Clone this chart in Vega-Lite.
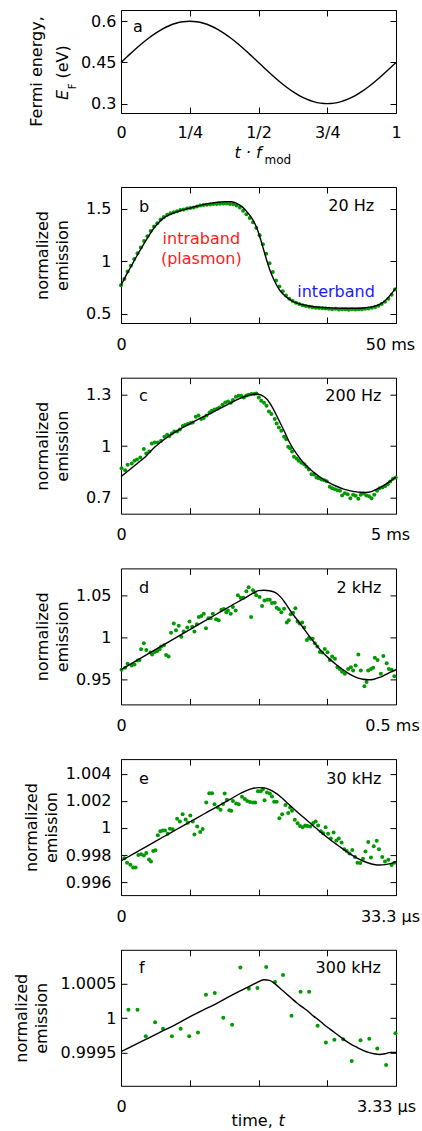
{
"$schema":"https://vega.github.io/schema/vega-lite/v6.json",
"padding":{"left":12,"top":9,"right":0,"bottom":0},
"autosize":{"type":"pad"},
"config":{
"font":"DejaVu Sans",
"view":{"stroke":"#000","strokeWidth":1},
"axis":{"grid":false,"domain":false,"tickColor":"#000","tickSize":-6,"tickWidth":1,"labelFont":"DejaVu Sans","labelFontSize":16,"labelColor":"#000","titleFont":"DejaVu Sans","titleFontSize":16,"titleFontWeight":"normal","titleColor":"#000","labelPadding":16,"labelFlush":false,"labelOverlap":false,"format":"~g"},
"axisX":{"labelPadding":19},
"text":{"font":"DejaVu Sans","fontSize":16,"color":"#000"}
},
"datasets":{
"fitA":[{"phase":0,"EF":0.45},{"phase":0.025,"EF":0.4735},{"phase":0.05,"EF":0.4964},{"phase":0.075,"EF":0.5181},{"phase":0.1,"EF":0.5382},{"phase":0.125,"EF":0.5561},{"phase":0.15,"EF":0.5714},{"phase":0.175,"EF":0.5837},{"phase":0.2,"EF":0.5927},{"phase":0.225,"EF":0.5982},{"phase":0.25,"EF":0.6},{"phase":0.275,"EF":0.5982},{"phase":0.3,"EF":0.5927},{"phase":0.325,"EF":0.5837},{"phase":0.35,"EF":0.5714},{"phase":0.375,"EF":0.5561},{"phase":0.4,"EF":0.5382},{"phase":0.425,"EF":0.5181},{"phase":0.45,"EF":0.4964},{"phase":0.475,"EF":0.4735},{"phase":0.5,"EF":0.45},{"phase":0.525,"EF":0.4265},{"phase":0.55,"EF":0.4036},{"phase":0.575,"EF":0.3819},{"phase":0.6,"EF":0.3618},{"phase":0.625,"EF":0.3439},{"phase":0.65,"EF":0.3286},{"phase":0.675,"EF":0.3163},{"phase":0.7,"EF":0.3073},{"phase":0.725,"EF":0.3018},{"phase":0.75,"EF":0.3},{"phase":0.775,"EF":0.3018},{"phase":0.8,"EF":0.3073},{"phase":0.825,"EF":0.3163},{"phase":0.85,"EF":0.3286},{"phase":0.875,"EF":0.3439},{"phase":0.9,"EF":0.3618},{"phase":0.925,"EF":0.3819},{"phase":0.95,"EF":0.4036},{"phase":0.975,"EF":0.4265},{"phase":1,"EF":0.45}],
"fitB":[{"phase":0,"emission":0.767},{"phase":0.02,"emission":0.87},{"phase":0.04,"emission":0.965},{"phase":0.06,"emission":1.06},{"phase":0.08,"emission":1.15},{"phase":0.1,"emission":1.235},{"phase":0.12,"emission":1.315},{"phase":0.14,"emission":1.375},{"phase":0.16,"emission":1.418},{"phase":0.18,"emission":1.445},{"phase":0.2,"emission":1.466},{"phase":0.22,"emission":1.483},{"phase":0.24,"emission":1.497},{"phase":0.26,"emission":1.511},{"phase":0.28,"emission":1.525},{"phase":0.3,"emission":1.537},{"phase":0.32,"emission":1.548},{"phase":0.34,"emission":1.556},{"phase":0.36,"emission":1.562},{"phase":0.38,"emission":1.566},{"phase":0.4,"emission":1.564},{"phase":0.42,"emission":1.55},{"phase":0.44,"emission":1.518},{"phase":0.46,"emission":1.463},{"phase":0.48,"emission":1.39},{"phase":0.49,"emission":1.338},{"phase":0.5,"emission":1.27},{"phase":0.51,"emission":1.185},{"phase":0.52,"emission":1.095},{"phase":0.53,"emission":1.005},{"phase":0.54,"emission":0.925},{"phase":0.55,"emission":0.858},{"phase":0.56,"emission":0.8},{"phase":0.57,"emission":0.752},{"phase":0.58,"emission":0.712},{"phase":0.6,"emission":0.66},{"phase":0.62,"emission":0.623},{"phase":0.64,"emission":0.6},{"phase":0.66,"emission":0.585},{"phase":0.68,"emission":0.574},{"phase":0.7,"emission":0.566},{"phase":0.72,"emission":0.561},{"phase":0.74,"emission":0.557},{"phase":0.76,"emission":0.554},{"phase":0.78,"emission":0.552},{"phase":0.8,"emission":0.551},{"phase":0.82,"emission":0.55},{"phase":0.84,"emission":0.55},{"phase":0.86,"emission":0.55},{"phase":0.88,"emission":0.553},{"phase":0.9,"emission":0.559},{"phase":0.92,"emission":0.569},{"phase":0.94,"emission":0.587},{"phase":0.96,"emission":0.622},{"phase":0.98,"emission":0.678},{"phase":1,"emission":0.745}],
"ptsB":[{"phase":0,"emission":0.77},{"phase":0.012,"emission":0.83},{"phase":0.024,"emission":0.9},{"phase":0.036,"emission":0.955},{"phase":0.048,"emission":1.02},{"phase":0.06,"emission":1.075},{"phase":0.072,"emission":1.13},{"phase":0.084,"emission":1.19},{"phase":0.096,"emission":1.235},{"phase":0.108,"emission":1.285},{"phase":0.12,"emission":1.33},{"phase":0.132,"emission":1.36},{"phase":0.144,"emission":1.395},{"phase":0.156,"emission":1.42},{"phase":0.168,"emission":1.44},{"phase":0.18,"emission":1.455},{"phase":0.192,"emission":1.465},{"phase":0.204,"emission":1.475},{"phase":0.216,"emission":1.485},{"phase":0.228,"emission":1.49},{"phase":0.24,"emission":1.5},{"phase":0.252,"emission":1.505},{"phase":0.264,"emission":1.51},{"phase":0.276,"emission":1.52},{"phase":0.288,"emission":1.528},{"phase":0.3,"emission":1.533},{"phase":0.312,"emission":1.535},{"phase":0.324,"emission":1.538},{"phase":0.336,"emission":1.542},{"phase":0.348,"emission":1.543},{"phase":0.36,"emission":1.546},{"phase":0.372,"emission":1.548},{"phase":0.384,"emission":1.547},{"phase":0.396,"emission":1.544},{"phase":0.408,"emission":1.54},{"phase":0.42,"emission":1.53},{"phase":0.432,"emission":1.51},{"phase":0.444,"emission":1.48},{"phase":0.456,"emission":1.445},{"phase":0.468,"emission":1.41},{"phase":0.48,"emission":1.37},{"phase":0.492,"emission":1.315},{"phase":0.504,"emission":1.245},{"phase":0.516,"emission":1.16},{"phase":0.528,"emission":1.07},{"phase":0.54,"emission":0.98},{"phase":0.552,"emission":0.895},{"phase":0.564,"emission":0.815},{"phase":0.576,"emission":0.758},{"phase":0.588,"emission":0.712},{"phase":0.6,"emission":0.672},{"phase":0.612,"emission":0.642},{"phase":0.624,"emission":0.62},{"phase":0.636,"emission":0.603},{"phase":0.648,"emission":0.59},{"phase":0.66,"emission":0.58},{"phase":0.672,"emission":0.571},{"phase":0.684,"emission":0.565},{"phase":0.696,"emission":0.56},{"phase":0.708,"emission":0.556},{"phase":0.72,"emission":0.552},{"phase":0.732,"emission":0.55},{"phase":0.744,"emission":0.548},{"phase":0.756,"emission":0.545},{"phase":0.768,"emission":0.54},{"phase":0.78,"emission":0.545},{"phase":0.792,"emission":0.538},{"phase":0.804,"emission":0.542},{"phase":0.816,"emission":0.54},{"phase":0.828,"emission":0.536},{"phase":0.84,"emission":0.54},{"phase":0.852,"emission":0.538},{"phase":0.864,"emission":0.542},{"phase":0.876,"emission":0.54},{"phase":0.888,"emission":0.545},{"phase":0.9,"emission":0.548},{"phase":0.912,"emission":0.555},{"phase":0.924,"emission":0.562},{"phase":0.936,"emission":0.575},{"phase":0.948,"emission":0.59},{"phase":0.96,"emission":0.612},{"phase":0.972,"emission":0.642},{"phase":0.984,"emission":0.68},{"phase":0.996,"emission":0.73}],
"fitC":[{"phase":0,"emission":0.822},{"phase":0.03,"emission":0.86},{"phase":0.06,"emission":0.9},{"phase":0.09,"emission":0.94},{"phase":0.12,"emission":0.99},{"phase":0.15,"emission":1.03},{"phase":0.18,"emission":1.065},{"phase":0.21,"emission":1.095},{"phase":0.24,"emission":1.122},{"phase":0.27,"emission":1.148},{"phase":0.3,"emission":1.172},{"phase":0.33,"emission":1.195},{"phase":0.36,"emission":1.22},{"phase":0.39,"emission":1.245},{"phase":0.42,"emission":1.27},{"phase":0.45,"emission":1.29},{"phase":0.47,"emission":1.3},{"phase":0.49,"emission":1.305},{"phase":0.51,"emission":1.298},{"phase":0.53,"emission":1.275},{"phase":0.55,"emission":1.228},{"phase":0.57,"emission":1.165},{"phase":0.59,"emission":1.1},{"phase":0.61,"emission":1.03},{"phase":0.63,"emission":0.975},{"phase":0.65,"emission":0.93},{"phase":0.67,"emission":0.892},{"phase":0.69,"emission":0.862},{"phase":0.71,"emission":0.836},{"phase":0.73,"emission":0.812},{"phase":0.75,"emission":0.792},{"phase":0.77,"emission":0.775},{"phase":0.79,"emission":0.761},{"phase":0.81,"emission":0.749},{"phase":0.83,"emission":0.74},{"phase":0.85,"emission":0.734},{"phase":0.87,"emission":0.73},{"phase":0.89,"emission":0.729},{"phase":0.91,"emission":0.734},{"phase":0.93,"emission":0.748},{"phase":0.95,"emission":0.765},{"phase":0.97,"emission":0.785},{"phase":0.99,"emission":0.807},{"phase":1,"emission":0.818}],
"ptsC":[{"phase":0.002,"emission":0.8713},{"phase":0.015,"emission":0.8596},{"phase":0.024,"emission":0.8908},{"phase":0.039,"emission":0.8986},{"phase":0.049,"emission":0.9142},{"phase":0.058,"emission":0.922},{"phase":0.07,"emission":0.9337},{"phase":0.083,"emission":0.9825},{"phase":0.092,"emission":0.9571},{"phase":0.103,"emission":0.9688},{"phase":0.112,"emission":1.0156},{"phase":0.122,"emission":1.0214},{"phase":0.134,"emission":1.0214},{"phase":0.146,"emission":1.0312},{"phase":0.158,"emission":1.0546},{"phase":0.168,"emission":1.0663},{"phase":0.176,"emission":1.0585},{"phase":0.185,"emission":1.0741},{"phase":0.194,"emission":1.0858},{"phase":0.204,"emission":1.0858},{"phase":0.214,"emission":1.0975},{"phase":0.225,"emission":1.117},{"phase":0.233,"emission":1.1228},{"phase":0.243,"emission":1.1287},{"phase":0.253,"emission":1.1345},{"phase":0.261,"emission":1.1384},{"phase":0.272,"emission":1.1715},{"phase":0.282,"emission":1.1793},{"phase":0.292,"emission":1.1579},{"phase":0.301,"emission":1.1637},{"phase":0.311,"emission":1.1793},{"phase":0.322,"emission":1.1969},{"phase":0.33,"emission":1.2066},{"phase":0.34,"emission":1.2144},{"phase":0.35,"emission":1.2183},{"phase":0.358,"emission":1.2261},{"phase":0.369,"emission":1.2417},{"phase":0.379,"emission":1.2554},{"phase":0.389,"emission":1.2612},{"phase":0.399,"emission":1.2534},{"phase":0.407,"emission":1.269},{"phase":0.418,"emission":1.2885},{"phase":0.428,"emission":1.2943},{"phase":0.437,"emission":1.2943},{"phase":0.447,"emission":1.2846},{"phase":0.456,"emission":1.2963},{"phase":0.464,"emission":1.3002},{"phase":0.474,"emission":1.3041},{"phase":0.484,"emission":1.3041},{"phase":0.492,"emission":1.308},{"phase":0.501,"emission":1.2846},{"phase":0.51,"emission":1.2651},{"phase":0.52,"emission":1.2534},{"phase":0.529,"emission":1.2359},{"phase":0.538,"emission":1.2027},{"phase":0.547,"emission":1.1871},{"phase":0.559,"emission":1.1579},{"phase":0.566,"emission":1.1326},{"phase":0.574,"emission":1.1092},{"phase":0.583,"emission":1.0897},{"phase":0.593,"emission":1.0546},{"phase":0.601,"emission":1.0409},{"phase":0.608,"emission":0.9961},{"phase":0.615,"emission":0.9883},{"phase":0.622,"emission":0.9688},{"phase":0.629,"emission":0.9376},{"phase":0.639,"emission":0.9279},{"phase":0.646,"emission":0.9142},{"phase":0.656,"emission":0.9025},{"phase":0.666,"emission":0.8947},{"phase":0.674,"emission":0.8791},{"phase":0.683,"emission":0.8635},{"phase":0.693,"emission":0.8363},{"phase":0.702,"emission":0.8343},{"phase":0.711,"emission":0.8168},{"phase":0.719,"emission":0.8129},{"phase":0.729,"emission":0.8051},{"phase":0.739,"emission":0.8012},{"phase":0.748,"emission":0.7953},{"phase":0.759,"emission":0.7622},{"phase":0.768,"emission":0.7544},{"phase":0.778,"emission":0.7485},{"phase":0.787,"emission":0.7427},{"phase":0.796,"emission":0.7388},{"phase":0.804,"emission":0.7115},{"phase":0.814,"emission":0.7251},{"phase":0.824,"emission":0.7193},{"phase":0.834,"emission":0.6959},{"phase":0.844,"emission":0.7154},{"phase":0.853,"emission":0.7096},{"phase":0.863,"emission":0.692},{"phase":0.872,"emission":0.7154},{"phase":0.882,"emission":0.7232},{"phase":0.892,"emission":0.7115},{"phase":0.902,"emission":0.7076},{"phase":0.911,"emission":0.6959},{"phase":0.921,"emission":0.7154},{"phase":0.931,"emission":0.7388},{"phase":0.94,"emission":0.7544},{"phase":0.95,"emission":0.7583},{"phase":0.96,"emission":0.7661},{"phase":0.97,"emission":0.7778},{"phase":0.979,"emission":0.7934},{"phase":0.989,"emission":0.809},{"phase":0.999,"emission":0.8168}],
"fitD":[{"phase":0,"emission":0.9618},{"phase":0.05,"emission":0.9713},{"phase":0.1,"emission":0.9807},{"phase":0.15,"emission":0.9902},{"phase":0.2,"emission":0.9997},{"phase":0.25,"emission":1.0091},{"phase":0.3,"emission":1.0186},{"phase":0.35,"emission":1.028},{"phase":0.4,"emission":1.0375},{"phase":0.45,"emission":1.0465},{"phase":0.48,"emission":1.0525},{"phase":0.5,"emission":1.0554},{"phase":0.52,"emission":1.0558},{"phase":0.54,"emission":1.0553},{"phase":0.56,"emission":1.0533},{"phase":0.58,"emission":1.048},{"phase":0.6,"emission":1.0395},{"phase":0.62,"emission":1.0297},{"phase":0.64,"emission":1.021},{"phase":0.66,"emission":1.0125},{"phase":0.68,"emission":1.0035},{"phase":0.7,"emission":0.995},{"phase":0.72,"emission":0.987},{"phase":0.74,"emission":0.98},{"phase":0.76,"emission":0.974},{"phase":0.78,"emission":0.9685},{"phase":0.8,"emission":0.9635},{"phase":0.82,"emission":0.959},{"phase":0.84,"emission":0.955},{"phase":0.86,"emission":0.952},{"phase":0.88,"emission":0.9504},{"phase":0.9,"emission":0.9498},{"phase":0.92,"emission":0.9505},{"phase":0.94,"emission":0.9526},{"phase":0.96,"emission":0.9556},{"phase":0.98,"emission":0.9588},{"phase":1,"emission":0.9618}],
"ptsD":[{"phase":0.002,"emission":0.9617},{"phase":0.015,"emission":0.9641},{"phase":0.024,"emission":0.9688},{"phase":0.039,"emission":0.9668},{"phase":0.049,"emission":0.968},{"phase":0.061,"emission":0.9727},{"phase":0.067,"emission":0.9734},{"phase":0.073,"emission":0.9859},{"phase":0.083,"emission":0.993},{"phase":0.092,"emission":0.9852},{"phase":0.107,"emission":0.982},{"phase":0.113,"emission":0.9797},{"phase":0.122,"emission":0.9828},{"phase":0.131,"emission":0.9836},{"phase":0.14,"emission":0.9859},{"phase":0.146,"emission":0.9891},{"phase":0.156,"emission":0.9906},{"phase":0.164,"emission":0.9793},{"phase":0.173,"emission":0.9773},{"phase":0.182,"emission":1.0055},{"phase":0.192,"emission":1.0164},{"phase":0.2,"emission":1.0086},{"phase":0.21,"emission":1.0137},{"phase":0.219,"emission":1.0008},{"phase":0.228,"emission":1.007},{"phase":0.241,"emission":1.0117},{"phase":0.249,"emission":1.0188},{"phase":0.259,"emission":1.0125},{"phase":0.267,"emission":1.007},{"phase":0.276,"emission":1.0156},{"phase":0.283,"emission":1.0242},{"phase":0.292,"emission":1.0254},{"phase":0.301,"emission":1.0281},{"phase":0.309,"emission":1.0109},{"phase":0.318,"emission":1.0227},{"phase":0.326,"emission":1.0227},{"phase":0.334,"emission":1.0281},{"phase":0.346,"emission":1.0215},{"phase":0.355,"emission":1.0203},{"phase":0.365,"emission":1.0328},{"phase":0.374,"emission":1.0336},{"phase":0.383,"emission":1.0297},{"phase":0.389,"emission":1.032},{"phase":0.399,"emission":1.0281},{"phase":0.407,"emission":1.0359},{"phase":0.417,"emission":1.032},{"phase":0.425,"emission":1.05},{"phase":0.435,"emission":1.0469},{"phase":0.445,"emission":1.0469},{"phase":0.456,"emission":1.0547},{"phase":0.464,"emission":1.0594},{"phase":0.473,"emission":1.0242},{"phase":0.48,"emission":1.0559},{"phase":0.486,"emission":1.0535},{"phase":0.492,"emission":1.05},{"phase":0.504,"emission":1.0477},{"phase":0.513,"emission":1.0371},{"phase":0.522,"emission":1.0438},{"phase":0.532,"emission":1.0445},{"phase":0.541,"emission":1.0445},{"phase":0.549,"emission":1.0406},{"phase":0.559,"emission":1.041},{"phase":0.566,"emission":1.0352},{"phase":0.574,"emission":1.0332},{"phase":0.583,"emission":1.0297},{"phase":0.593,"emission":1.034},{"phase":0.603,"emission":1.0176},{"phase":0.61,"emission":1.0203},{"phase":0.617,"emission":1.0273},{"phase":0.626,"emission":1.0293},{"phase":0.634,"emission":1.0344},{"phase":0.642,"emission":1.0188},{"phase":0.65,"emission":1.0164},{"phase":0.659,"emission":1.0176},{"phase":0.666,"emission":1.0117},{"phase":0.676,"emission":0.9969},{"phase":0.683,"emission":0.9992},{"phase":0.69,"emission":0.9984},{"phase":0.697,"emission":0.9984},{"phase":0.705,"emission":0.993},{"phase":0.714,"emission":0.9891},{"phase":0.723,"emission":0.9828},{"phase":0.731,"emission":0.982},{"phase":0.741,"emission":0.9863},{"phase":0.751,"emission":0.9824},{"phase":0.759,"emission":0.9734},{"phase":0.768,"emission":0.9773},{"phase":0.778,"emission":0.9746},{"phase":0.787,"emission":0.9648},{"phase":0.796,"emission":0.9625},{"phase":0.804,"emission":0.9594},{"phase":0.814,"emission":0.957},{"phase":0.826,"emission":0.9625},{"phase":0.836,"emission":0.9648},{"phase":0.844,"emission":0.9609},{"phase":0.853,"emission":0.9668},{"phase":0.863,"emission":0.9797},{"phase":0.872,"emission":0.9609},{"phase":0.885,"emission":0.9422},{"phase":0.893,"emission":0.9473},{"phase":0.899,"emission":0.9609},{"phase":0.909,"emission":0.9625},{"phase":0.917,"emission":0.9641},{"phase":0.923,"emission":0.9758},{"phase":0.933,"emission":0.9734},{"phase":0.945,"emission":0.957},{"phase":0.954,"emission":0.9781},{"phase":0.966,"emission":0.9695},{"phase":0.974,"emission":0.9625},{"phase":0.984,"emission":0.9617},{"phase":0.994,"emission":0.9539}],
"fitE":[{"phase":0,"emission":0.99758},{"phase":0.05,"emission":0.99815},{"phase":0.1,"emission":0.99872},{"phase":0.15,"emission":0.9993},{"phase":0.2,"emission":0.99987},{"phase":0.25,"emission":1.00044},{"phase":0.3,"emission":1.00101},{"phase":0.35,"emission":1.00158},{"phase":0.4,"emission":1.00215},{"phase":0.44,"emission":1.0026},{"phase":0.47,"emission":1.00286},{"phase":0.5,"emission":1.00297},{"phase":0.52,"emission":1.00295},{"phase":0.54,"emission":1.00282},{"phase":0.56,"emission":1.0026},{"phase":0.58,"emission":1.0023},{"phase":0.6,"emission":1.00193},{"phase":0.62,"emission":1.00156},{"phase":0.64,"emission":1.0012},{"phase":0.66,"emission":1.00085},{"phase":0.68,"emission":1.0005},{"phase":0.7,"emission":1.00015},{"phase":0.72,"emission":0.9998},{"phase":0.74,"emission":0.99947},{"phase":0.76,"emission":0.99915},{"phase":0.78,"emission":0.99885},{"phase":0.8,"emission":0.99855},{"phase":0.82,"emission":0.99827},{"phase":0.84,"emission":0.998},{"phase":0.86,"emission":0.99777},{"phase":0.88,"emission":0.99757},{"phase":0.9,"emission":0.99742},{"phase":0.92,"emission":0.99731},{"phase":0.94,"emission":0.99727},{"phase":0.96,"emission":0.9973},{"phase":0.98,"emission":0.99738},{"phase":1,"emission":0.99752}],
"ptsE":[{"phase":0.012,"emission":0.99778},{"phase":0.022,"emission":0.99744},{"phase":0.034,"emission":0.99729},{"phase":0.044,"emission":0.9971},{"phase":0.053,"emission":0.9971},{"phase":0.063,"emission":0.99802},{"phase":0.073,"emission":0.99807},{"phase":0.083,"emission":0.99797},{"phase":0.092,"emission":0.99816},{"phase":0.102,"emission":0.99768},{"phase":0.109,"emission":0.99754},{"phase":0.117,"emission":0.99831},{"phase":0.125,"emission":0.99836},{"phase":0.134,"emission":0.99947},{"phase":0.143,"emission":0.99976},{"phase":0.152,"emission":0.99981},{"phase":0.16,"emission":0.99981},{"phase":0.17,"emission":0.99957},{"phase":0.178,"emission":0.99995},{"phase":0.188,"emission":0.9999},{"phase":0.204,"emission":1.00068},{"phase":0.214,"emission":1.00048},{"phase":0.224,"emission":1.00101},{"phase":0.235,"emission":1.00063},{"phase":0.243,"emission":1.00039},{"phase":0.252,"emission":1.00092},{"phase":0.261,"emission":1.00048},{"phase":0.267,"emission":0.99952},{"phase":0.277,"emission":1.0001},{"phase":0.288,"emission":0.99971},{"phase":0.297,"emission":0.99993},{"phase":0.31,"emission":1.00188},{"phase":0.321,"emission":1.00256},{"phase":0.331,"emission":1.00256},{"phase":0.34,"emission":1.00174},{"phase":0.352,"emission":1.0015},{"phase":0.362,"emission":1.00135},{"phase":0.371,"emission":1.00176},{"phase":0.377,"emission":1.00254},{"phase":0.385,"emission":1.00208},{"phase":0.394,"emission":1.0013},{"phase":0.401,"emission":1.00126},{"phase":0.407,"emission":1.00198},{"phase":0.419,"emission":1.00181},{"phase":0.428,"emission":1.00174},{"phase":0.44,"emission":1.00229},{"phase":0.45,"emission":1.00213},{"phase":0.459,"emission":1.00198},{"phase":0.469,"emission":1.00191},{"phase":0.48,"emission":1.00188},{"phase":0.488,"emission":1.00188},{"phase":0.498,"emission":1.00271},{"phase":0.508,"emission":1.00271},{"phase":0.516,"emission":1.00285},{"phase":0.522,"emission":1.00205},{"phase":0.531,"emission":1.00261},{"phase":0.541,"emission":1.00254},{"phase":0.549,"emission":1.00232},{"phase":0.557,"emission":1.00193},{"phase":0.566,"emission":1.00193},{"phase":0.576,"emission":1.00072},{"phase":0.586,"emission":1.00101},{"phase":0.598,"emission":1.00169},{"phase":0.608,"emission":1.00111},{"phase":0.615,"emission":1.0015},{"phase":0.622,"emission":1.00126},{"phase":0.632,"emission":1.0006},{"phase":0.642,"emission":1.00034},{"phase":0.651,"emission":1.00014},{"phase":0.661,"emission":1.00005},{"phase":0.67,"emission":1.00019},{"phase":0.678,"emission":1.00014},{"phase":0.688,"emission":1.0001},{"phase":0.699,"emission":1.00036},{"phase":0.708,"emission":1.00048},{"phase":0.717,"emission":1.00019},{"phase":0.727,"emission":0.99976},{"phase":0.735,"emission":0.99961},{"phase":0.744,"emission":1.00005},{"phase":0.753,"emission":0.99957},{"phase":0.763,"emission":0.99923},{"phase":0.773,"emission":0.99966},{"phase":0.783,"emission":0.99908},{"phase":0.792,"emission":0.99923},{"phase":0.802,"emission":0.99894},{"phase":0.812,"emission":0.99843},{"phase":0.821,"emission":0.99831},{"phase":0.831,"emission":0.99812},{"phase":0.841,"emission":0.99838},{"phase":0.851,"emission":0.99787},{"phase":0.86,"emission":0.99744},{"phase":0.87,"emission":0.99742},{"phase":0.88,"emission":0.99773},{"phase":0.889,"emission":0.99826},{"phase":0.899,"emission":0.99896},{"phase":0.909,"emission":0.99783},{"phase":0.919,"emission":0.99865},{"phase":0.93,"emission":0.99906},{"phase":0.938,"emission":0.99843},{"phase":0.95,"emission":0.99787},{"phase":0.96,"emission":0.99754},{"phase":0.972,"emission":0.99766},{"phase":0.984,"emission":0.99727},{"phase":0.994,"emission":0.99744}],
"fitF":[{"phase":0,"emission":0.99951},{"phase":0.05,"emission":0.99961},{"phase":0.1,"emission":0.99971},{"phase":0.15,"emission":0.99981},{"phase":0.2,"emission":0.99991},{"phase":0.25,"emission":1.00002},{"phase":0.3,"emission":1.00012},{"phase":0.35,"emission":1.00022},{"phase":0.4,"emission":1.00033},{"phase":0.45,"emission":1.00043},{"phase":0.49,"emission":1.00051},{"phase":0.52,"emission":1.00056},{"phase":0.54,"emission":1.00055},{"phase":0.56,"emission":1.0005},{"phase":0.58,"emission":1.00043},{"phase":0.6,"emission":1.00036},{"phase":0.62,"emission":1.00029},{"phase":0.64,"emission":1.00022},{"phase":0.66,"emission":1.00016},{"phase":0.68,"emission":1.0001},{"phase":0.7,"emission":1.00003},{"phase":0.72,"emission":0.99997},{"phase":0.74,"emission":0.9999},{"phase":0.76,"emission":0.99984},{"phase":0.78,"emission":0.99978},{"phase":0.8,"emission":0.99972},{"phase":0.82,"emission":0.99966},{"phase":0.84,"emission":0.99961},{"phase":0.86,"emission":0.99957},{"phase":0.88,"emission":0.99953},{"phase":0.9,"emission":0.9995},{"phase":0.92,"emission":0.99948},{"phase":0.94,"emission":0.99947},{"phase":0.96,"emission":0.99948},{"phase":0.98,"emission":0.9995},{"phase":1,"emission":0.9995}],
"ptsF":[{"phase":0.027,"emission":1.000122},{"phase":0.06,"emission":1.000122},{"phase":0.09,"emission":0.999737},{"phase":0.124,"emission":0.999941},{"phase":0.153,"emission":0.999844},{"phase":0.185,"emission":0.999737},{"phase":0.217,"emission":0.999844},{"phase":0.248,"emission":0.999737},{"phase":0.28,"emission":0.99979},{"phase":0.309,"emission":1.000341},{"phase":0.341,"emission":1.000366},{"phase":0.372,"emission":1.000005},{"phase":0.404,"emission":0.999902},{"phase":0.434,"emission":1.000737},{"phase":0.465,"emission":1.000429},{"phase":0.496,"emission":1.000439},{"phase":0.528,"emission":1.000746},{"phase":0.56,"emission":1.000527},{"phase":0.589,"emission":1.000629},{"phase":0.62,"emission":1.000034},{"phase":0.653,"emission":1.000385},{"phase":0.684,"emission":1.000385},{"phase":0.715,"emission":0.999888},{"phase":0.745,"emission":0.999644},{"phase":0.776,"emission":0.999683},{"phase":0.808,"emission":0.999693},{"phase":0.839,"emission":0.999376},{"phase":0.871,"emission":0.999678},{"phase":0.903,"emission":0.999698},{"phase":0.932,"emission":0.999556},{"phase":0.964,"emission":0.999317},{"phase":0.998,"emission":0.99978}]
},
"bounds":"flush",
"spacing":74,
"vconcat":[
{
"width":275,"height":103,
"resolve":{"axis":{"x":"independent","y":"independent"}},
"layer":[
{"data":{"name":"fitA"},"mark":{"type":"line","color":"#000","strokeWidth":1.4,"interpolate":"monotone"},
"encoding":{
"x":{"field":"phase","type":"quantitative","scale":{"domain":[0,1],"nice":false,"zero":false},"axis":{"orient":"bottom","values":[0,0.25,0.5,0.75,1],"labelExpr":"datum.value==0?'0':datum.value==0.25?'1/4':datum.value==0.5?'1/2':datum.value==0.75?'3/4':'1'","labelPadding":17,"title":"t · f","titleFontStyle":"italic","titleX":113,"titleY":44.7,"titleAlign":"left","titleBaseline":"alphabetic"}},
"y":{"field":"EF","type":"quantitative","scale":{"domain":[0.266,0.641],"nice":false,"zero":false},"axis":{"orient":"left","values":[0.3,0.45,0.6],"labelExpr":"datum.value==0.45?'0.45':datum.value==0.3?'0.3':'0.6'","labelPadding":11,"title":"Fermi energy,","titleX":-79.5,"titleY":61,"titleAlign":"center","titleBaseline":"alphabetic","titleAngle":-90}}}},
{"data":{"values":[{}]},"mark":{"type":"text","text":"a","align":"left","baseline":"alphabetic"},
"encoding":{"x":{"datum":0.0437,"type":"quantitative","axis":{"orient":"top","labels":false,"title":null,"values":[0,0.25,0.5,0.75,1]}},"y":{"datum":0.562,"type":"quantitative","axis":{"orient":"right","labels":false,"title":null,"values":[0.3,0.45,0.6]}}}},
{"data":{"name":"fitA"},"mark":{"type":"line","opacity":0},
"encoding":{"x":{"field":"phase","type":"quantitative","axis":{"orient":"bottom","labels":false,"ticks":false,"title":"mod","titleFontSize":12,"titleX":143,"titleY":50.7,"titleAlign":"left","titleBaseline":"alphabetic"}},"y":{"field":"EF","type":"quantitative","axis":{"orient":"left","labels":false,"ticks":false,"title":"E","titleFontStyle":"italic","titleX":-53.3,"titleY":89.4,"titleAlign":"left","titleBaseline":"alphabetic","titleAngle":-90}}}},
{"data":{"name":"fitA"},"mark":{"type":"line","opacity":0},
"encoding":{"x":{"field":"phase","type":"quantitative","axis":null},"y":{"field":"EF","type":"quantitative","axis":{"orient":"left","labels":false,"ticks":false,"title":"F","titleFontSize":10,"titleX":-46,"titleY":78.8,"titleAlign":"left","titleBaseline":"alphabetic","titleAngle":-90}}}},
{"data":{"name":"fitA"},"mark":{"type":"line","opacity":0},
"encoding":{"x":{"field":"phase","type":"quantitative","axis":null},"y":{"field":"EF","type":"quantitative","axis":{"orient":"left","labels":false,"ticks":false,"title":"(eV)","titleX":-53.3,"titleY":68,"titleAlign":"left","titleBaseline":"alphabetic","titleAngle":-90}}}}
]
},
{
"bounds":"flush",
"spacing":54.7,
"vconcat":[
{
"width":275,"height":136,
"resolve":{"axis":{"x":"independent","y":"independent"}},
"layer":[
{"data":{"name":"ptsB"},"mark":{"type":"circle","size":16,"color":"#009a00","opacity":1},
"encoding":{
"x":{"field":"phase","type":"quantitative","scale":{"domain":[0,1],"nice":false,"zero":false},"axis":{"orient":"bottom","values":[0,0.25,0.5,0.75,1],"labelExpr":"datum.value==0?'0':datum.value==1?'50 ms':''","labelOffset":{"condition":{"test":"datum.value==1","value":-6},"value":0},"title":null}},
"y":{"field":"emission","type":"quantitative","scale":{"domain":[0.41,1.705],"nice":false,"zero":false},"axis":{"orient":"left","values":[0.5,1,1.5],"title":["normalized","emission"],"titleX":-73.3,"titleY":68,"titleAlign":"center","titleBaseline":"alphabetic","titleAngle":-90,"titleLineHeight":20}}}},
{"data":{"name":"fitB"},"mark":{"type":"line","color":"#000","strokeWidth":1.4,"interpolate":"monotone"},
"encoding":{"x":{"field":"phase","type":"quantitative","axis":{"orient":"top","labels":false,"title":null,"values":[0,0.25,0.5,0.75,1]}},"y":{"field":"emission","type":"quantitative","axis":{"orient":"right","labels":false,"title":null,"values":[0.5,1,1.5]}}}},
{"data":{"values":[{}]},"mark":{"type":"text","text":"b","align":"left","baseline":"alphabetic"},"encoding":{"x":{"datum":0.0656,"type":"quantitative","axis":null},"y":{"datum":1.47,"type":"quantitative","axis":null}}},
{"data":{"values":[{}]},"mark":{"type":"text","text":"20 Hz","align":"right","baseline":"alphabetic"},"encoding":{"x":{"datum":0.9206,"type":"quantitative","axis":null},"y":{"datum":1.476,"type":"quantitative","axis":null}}},
{"data":{"values":[{}]},"mark":{"type":"text","text":["intraband","(plasmon)"],"align":"center","baseline":"alphabetic","lineHeight":20,"color":"#ff1a1a"},"encoding":{"x":{"datum":0.292,"type":"quantitative","axis":null},"y":{"datum":1.159,"type":"quantitative","axis":null}}},
{"data":{"values":[{}]},"mark":{"type":"text","text":"interband","align":"center","baseline":"alphabetic","color":"#1a1aff"},"encoding":{"x":{"datum":0.782,"type":"quantitative","axis":null},"y":{"datum":0.657,"type":"quantitative","axis":null}}}
]
},
{
"width":275,"height":136,
"resolve":{"axis":{"x":"independent","y":"independent"}},
"layer":[
{"data":{"name":"ptsC"},"mark":{"type":"circle","size":16,"color":"#009a00","opacity":1},
"encoding":{
"x":{"field":"phase","type":"quantitative","scale":{"domain":[0,1],"nice":false,"zero":false},"axis":{"orient":"bottom","values":[0,0.25,0.5,0.75,1],"labelExpr":"datum.value==0?'0':datum.value==1?'5 ms':''","labelOffset":{"condition":{"test":"datum.value==1","value":-6},"value":0},"title":null}},
"y":{"field":"emission","type":"quantitative","scale":{"domain":[0.605,1.4],"nice":false,"zero":false},"axis":{"orient":"left","values":[0.7,1,1.3],"title":["normalized","emission"],"titleX":-73.3,"titleY":68,"titleAlign":"center","titleBaseline":"alphabetic","titleAngle":-90,"titleLineHeight":20}}}},
{"data":{"name":"fitC"},"mark":{"type":"line","color":"#000","strokeWidth":1.4,"interpolate":"monotone"},
"encoding":{"x":{"field":"phase","type":"quantitative","axis":{"orient":"top","labels":false,"title":null,"values":[0,0.25,0.5,0.75,1]}},"y":{"field":"emission","type":"quantitative","axis":{"orient":"right","labels":false,"title":null,"values":[0.7,1,1.3]}}}},
{"data":{"values":[{}]},"mark":{"type":"text","text":"c","align":"left","baseline":"alphabetic"},"encoding":{"x":{"datum":0.0656,"type":"quantitative","axis":null},"y":{"datum":1.261,"type":"quantitative","axis":null}}},
{"data":{"values":[{}]},"mark":{"type":"text","text":"200 Hz","align":"right","baseline":"alphabetic"},"encoding":{"x":{"datum":0.947,"type":"quantitative","axis":null},"y":{"datum":1.261,"type":"quantitative","axis":null}}}
]
},
{
"width":275,"height":136,
"resolve":{"axis":{"x":"independent","y":"independent"}},
"layer":[
{"data":{"name":"ptsD"},"mark":{"type":"circle","size":16,"color":"#009a00","opacity":1},
"encoding":{
"x":{"field":"phase","type":"quantitative","scale":{"domain":[0,1],"nice":false,"zero":false},"axis":{"orient":"bottom","values":[0,0.25,0.5,0.75,1],"labelExpr":"datum.value==0?'0':datum.value==1?'0.5 ms':''","labelOffset":{"condition":{"test":"datum.value==1","value":-4},"value":0},"title":null}},
"y":{"field":"emission","type":"quantitative","scale":{"domain":[0.9207,1.0817],"nice":false,"zero":false},"axis":{"orient":"left","values":[0.95,1,1.05],"title":["normalized","emission"],"titleX":-73.3,"titleY":68,"titleAlign":"center","titleBaseline":"alphabetic","titleAngle":-90,"titleLineHeight":20}}}},
{"data":{"name":"fitD"},"mark":{"type":"line","color":"#000","strokeWidth":1.4,"interpolate":"monotone"},
"encoding":{"x":{"field":"phase","type":"quantitative","axis":{"orient":"top","labels":false,"title":null,"values":[0,0.25,0.5,0.75,1]}},"y":{"field":"emission","type":"quantitative","axis":{"orient":"right","labels":false,"title":null,"values":[0.95,1,1.05]}}}},
{"data":{"values":[{}]},"mark":{"type":"text","text":"d","align":"left","baseline":"alphabetic"},"encoding":{"x":{"datum":0.0656,"type":"quantitative","axis":null},"y":{"datum":1.0527,"type":"quantitative","axis":null}}},
{"data":{"values":[{}]},"mark":{"type":"text","text":"2 kHz","align":"right","baseline":"alphabetic"},"encoding":{"x":{"datum":0.947,"type":"quantitative","axis":null},"y":{"datum":1.0527,"type":"quantitative","axis":null}}}
]
},
{
"width":275,"height":136,
"resolve":{"axis":{"x":"independent","y":"independent"}},
"layer":[
{"data":{"name":"ptsE"},"mark":{"type":"circle","size":16,"color":"#009a00","opacity":1},
"encoding":{
"x":{"field":"phase","type":"quantitative","scale":{"domain":[0,1],"nice":false,"zero":false},"axis":{"orient":"bottom","values":[0,0.25,0.5,0.75,1],"labelExpr":"datum.value==0?'0':datum.value==1?'33.3 μs':''","labelOffset":{"condition":{"test":"datum.value==1","value":-6},"value":0},"title":null}},
"y":{"field":"emission","type":"quantitative","scale":{"domain":[0.99506,1.00507],"nice":false,"zero":false},"axis":{"orient":"left","values":[0.996,0.998,1,1.002,1.004],"title":["normalized","emission"],"titleX":-85,"titleY":68,"titleAlign":"center","titleBaseline":"alphabetic","titleAngle":-90,"titleLineHeight":20}}}},
{"data":{"name":"fitE"},"mark":{"type":"line","color":"#000","strokeWidth":1.4,"interpolate":"monotone"},
"encoding":{"x":{"field":"phase","type":"quantitative","axis":{"orient":"top","labels":false,"title":null,"values":[0,0.25,0.5,0.75,1]}},"y":{"field":"emission","type":"quantitative","axis":{"orient":"right","labels":false,"title":null,"values":[0.996,0.998,1,1.002,1.004]}}}},
{"data":{"values":[{}]},"mark":{"type":"text","text":"e","align":"left","baseline":"alphabetic"},"encoding":{"x":{"datum":0.0656,"type":"quantitative","axis":null},"y":{"datum":1.00326,"type":"quantitative","axis":null}}},
{"data":{"values":[{}]},"mark":{"type":"text","text":"30 kHz","align":"right","baseline":"alphabetic"},"encoding":{"x":{"datum":0.947,"type":"quantitative","axis":null},"y":{"datum":1.00326,"type":"quantitative","axis":null}}}
]
},
{
"width":275,"height":136,
"resolve":{"axis":{"x":"independent","y":"independent"}},
"layer":[
{"data":{"name":"ptsF"},"mark":{"type":"circle","size":16,"color":"#009a00","opacity":1},
"encoding":{
"x":{"field":"phase","type":"quantitative","scale":{"domain":[0,1],"nice":false,"zero":false},"axis":{"orient":"bottom","values":[0,0.25,0.5,0.75,1],"labelExpr":"datum.value==0?'0':datum.value==1?'3.33 μs':''","labelOffset":{"condition":{"test":"datum.value==1","value":-10},"value":0},"title":"time,","titleX":110,"titleY":40,"titleAlign":"left","titleBaseline":"alphabetic"}},
"y":{"field":"emission","type":"quantitative","scale":{"domain":[0.999013,1.000997],"nice":false,"zero":false},"axis":{"orient":"left","values":[0.9995,1,1.0005],"labelPadding":11,"title":["normalized","emission"],"titleX":-95,"titleY":68,"titleAlign":"center","titleBaseline":"alphabetic","titleAngle":-90,"titleLineHeight":20}}}},
{"data":{"name":"fitF"},"mark":{"type":"line","color":"#000","strokeWidth":1.4,"interpolate":"monotone"},
"encoding":{"x":{"field":"phase","type":"quantitative","axis":{"orient":"top","labels":false,"title":null,"values":[0,0.25,0.5,0.75,1]}},"y":{"field":"emission","type":"quantitative","axis":{"orient":"right","labels":false,"title":null,"values":[0.9995,1,1.0005]}}}},
{"data":{"values":[{}]},"mark":{"type":"text","text":"f","align":"left","baseline":"alphabetic"},"encoding":{"x":{"datum":0.0656,"type":"quantitative","axis":{"orient":"bottom","labels":false,"ticks":false,"title":"t","titleFontStyle":"italic","titleX":157,"titleY":40,"titleAlign":"left","titleBaseline":"alphabetic"}},"y":{"datum":1.00066,"type":"quantitative","axis":null}}},
{"data":{"values":[{}]},"mark":{"type":"text","text":"300 kHz","align":"right","baseline":"alphabetic"},"encoding":{"x":{"datum":0.945,"type":"quantitative","axis":null},"y":{"datum":1.00066,"type":"quantitative","axis":null}}}
]
}
]
}
]
}
